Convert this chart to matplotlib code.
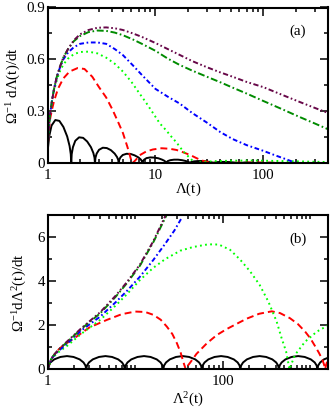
import matplotlib
matplotlib.use('Agg')
import matplotlib.pyplot as plt
from matplotlib.ticker import FixedLocator, NullFormatter, LogLocator, MultipleLocator

# ---------------- data: panel (a)  Λ(t) vs Ω^-1 dΛ/dt ----------------
a_black_x = [1, 1.01, 1.036, 1.09, 1.182, 1.288, 1.404, 1.522, 1.602, 1.643, 1.66,
             1.676, 1.72, 1.809, 1.962, 2.138, 2.331, 2.527, 2.659, 2.727, 2.754,
             2.782, 2.853, 3.002, 3.255, 3.547, 3.867, 4.192, 4.412, 4.525, 4.57,
             4.616, 4.735, 4.981, 5.402, 5.886, 6.416, 6.956, 7.321, 7.508, 7.585,
             7.661, 7.858, 8.268, 8.965, 9.769, 10.65, 11.54, 12.15, 12.46, 12.59,
             12.72, 13.04, 13.72, 14.88, 16.22, 17.68, 19.16, 20.17, 20.69, 20.89,
             21.1, 21.64, 22.77, 24.69, 26.91, 29.33, 31.79, 33.47, 34.32, 34.67,
             35.02, 35.92, 37.79, 40.98, 44.65, 48.68, 52.77, 55.54, 56.96, 57.53,
             68.0, 95.47, 112.8, 158.4, 187.2, 262.9, 310.7, 400]
a_black_y = [0, .088, .155, .218, .25, .245, .21, .155, .10, .053, 0,
             .053, .093, .13, .15, .147, .126, .093, .06, .032, 0,
             .032, .056, .078, .09, .088, .076, .056, .036, .019, 0,
             .019, .034, .048, .055, .054, .046, .034, .022, .012, 0,
             .012, .021, .030, .034, .033, .029, .021, .014, .007, 0,
             .007, .013, .018, .021, .021, .018, .013, .008, .004, 0,
             .005, .008, .011, .013, .013, .011, .008, .005, .003, 0,
             .003, .005, .007, .008, .008, .007, .005, .003, .002, 0,
             .005, 0, .003, 0, .002, 0, .001, 0]

a_red_x = [1, 1.01, 1.03, 1.06, 1.1, 1.15, 1.25, 1.4, 1.6, 1.9, 2.2, 2.6, 3.0, 3.5,
           4.0, 4.5, 5.0, 5.5, 5.8, 6.08, 6.4, 6.8, 7.3, 8.2, 9.5, 11.4, 13.5, 15.7,
           18, 21, 24, 27, 31, 36, 40, 60, 90, 130, 180, 260]
a_red_y = [0, .11, .19, .26, .31, .36, .43, .49, .53, .55, .545, .5, .44, .38,
           .31, .24, .175, .095, .045, 0, .012, .03, .05, .068, .08, .087, .084, .077,
           .064, .048, .03, .016, .007, .002, .001, .004, .005, .003, .001, 0]

a_green_dot_x = [1, 1.01, 1.03, 1.06, 1.1, 1.15, 1.22, 1.3, 1.4, 1.55, 1.75, 2.0, 2.4,
                 2.9, 3.5, 4.2, 5.0, 6.0, 7.0, 8.2, 9.5, 11, 12.6, 14, 15.7, 17.3, 19,
                 20.9, 22.5, 23.3, 26, 35, 50, 80, 120, 180, 250, 400]
a_green_dot_y = [0, .12, .21, .29, .36, .42, .48, .53, .57, .605, .63, .643, .645,
                 .635, .61, .575, .53, .47, .41, .35, .29, .23, .19, .155, .12, .085, .055,
                 .03, .01, 0, .006, .012, .015, .016, .014, .012, .01, .007]

a_blue_x = [1, 1.01, 1.03, 1.06, 1.1, 1.15, 1.22, 1.3, 1.4, 1.55, 1.75, 2.0, 2.4, 2.9,
            3.5, 4.2, 5.0, 6.2, 7.5, 10, 13, 16.8, 22, 30, 40, 52, 70, 100, 130, 160,
            185, 205]
a_blue_y = [0, .12, .21, .29, .36, .43, .5, .55, .6, .64, .67, .69, .698, .698,
            .69, .66, .625, .565, .51, .43, .385, .345, .29, .235, .18, .14, .105, .072,
            .045, .025, .01, 0]

a_green_dd_x = [1, 1.01, 1.03, 1.06, 1.1, 1.15, 1.22, 1.3, 1.4, 1.55, 1.75, 2.0, 2.4,
                2.9, 3.5, 4.2, 5.0, 6.2, 7.5, 10, 13, 16.8, 22, 30, 40, 52, 70, 100,
                150, 216, 300, 400]
a_green_dd_y = [0, .12, .21, .29, .36, .43, .5, .555, .61, .66, .705, .735, .758,
                .767, .765, .755, .74, .715, .69, .65, .605, .568, .535, .5, .468, .437,
                .403, .36, .312, .268, .23, .196]

a_purple_x = [1, 1.01, 1.03, 1.06, 1.1, 1.15, 1.22, 1.3, 1.4, 1.55, 1.75, 2.0, 2.4,
              2.9, 3.5, 4.2, 5.0, 6.2, 7.5, 10, 13, 16.8, 22, 30, 40, 52, 70, 100,
              150, 216, 300, 400]
a_purple_y = [0, .12, .21, .29, .36, .43, .5, .555, .61, .66, .71, .745, .77,
              .783, .785, .78, .77, .75, .73, .695, .66, .626, .59, .555, .525, .5,
              .47, .44, .395, .355, .32, .29]

# ---------------- data: panel (b)  Λ²(t) vs Ω^-1 dΛ²/dt ----------------
b_black_x = [1, 1.02, 1.074, 1.188, 1.397, 1.66, 1.972, 2.318, 2.566, 2.699,
             2.754, 2.81, 2.957, 3.272, 3.847, 4.572, 5.431, 6.384, 7.067, 7.433,
             7.585, 7.74, 8.146, 9.011, 10.6, 12.59, 14.96, 17.58, 19.46, 20.47,
             20.89, 21.31, 22.44, 24.82, 29.18, 34.68, 41.2, 48.42, 53.6, 56.38,
             57.53, 58.68, 61.79, 68.35, 80.37, 95.5, 113.4, 133.4, 147.6, 155.3,
             158.4, 161.6, 170.1, 188.2, 221.3, 263, 312.4, 367.2, 406.5, 427.5,
             436.3, 445, 468.6, 518.3, 609.5, 724.3, 860.4, 1011, 1120, 1178,
             1202, 1226, 1291, 1428, 1679]
b_black_y = [0, .17, .31, .45, .56, .6, .56, .45, .31, .17,
             0, .17, .31, .45, .56, .6, .56, .45, .31, .17,
             0, .17, .31, .45, .56, .6, .56, .45, .31, .17,
             0, .17, .31, .45, .56, .6, .56, .45, .31, .17,
             0, .17, .31, .45, .56, .6, .56, .45, .31, .17,
             0, .17, .31, .45, .56, .6, .56, .45, .31, .17,
             0, .17, .31, .45, .56, .6, .56, .45, .31, .17,
             0, .17, .31, .45, .56]

b_red_x = [1, 1.02, 1.06, 1.12, 1.25, 1.5, 1.96, 3, 4.73, 7, 10, 13, 16.1, 19.5,
           22.9, 26.5, 29.9, 33, 35.6, 37.7, 39, 42.3, 50, 65.7, 85, 110, 150, 188,
           260, 362, 450, 583, 720, 870, 1000, 1130, 1250, 1365, 1430, 1475, 1510, 1600]
b_red_y = [0, .12, .3, .5, .8, 1.08, 1.38, 1.9, 2.24, 2.5, 2.62, 2.6, 2.47, 2.25,
           1.94, 1.6, 1.18, .75, .3, 0, .12, .3, .7, 1.18, 1.55, 1.82, 2.1, 2.3,
           2.52, 2.63, 2.55, 2.32, 2.05, 1.71, 1.4, 1.05, .75, .45, .22, 0, .2, .5]

b_green_dot_x = [1, 1.03, 1.1, 1.3, 1.65, 2.4, 4, 6, 8, 11.3, 16, 22, 32.6, 46, 68,
                 90, 121, 158, 205, 263, 331, 412, 469, 528, 561, 575, 665, 868, 1185,
                 1600]
b_green_dot_y = [0, .15, .47, .75, 1.05, 1.6, 2.25, 2.9, 3.4, 4.05, 4.6, 5.0, 5.38,
                 5.55, 5.67, 5.66, 5.42, 4.97, 4.44, 3.83, 3.07, 2.16, 1.41, .8, .25, 0,
                 .65, 1.25, 1.71, 2.0]

b_blue_x = [1, 1.03, 1.1, 1.3, 1.65, 2.4, 4, 6, 8, 11.3, 16, 22, 28, 34]
b_blue_y = [0, .15, .48, .8, 1.15, 1.75, 2.4, 3.05, 3.55, 4.2, 4.95, 5.7, 6.3, 6.88]

b_green_dd_x = [1, 1.03, 1.1, 1.3, 1.65, 2.4, 4, 6, 8, 11.3, 16, 22.3, 25]
b_green_dd_y = [0, .15, .5, .85, 1.22, 1.82, 2.55, 3.3, 3.9, 4.7, 5.75, 6.92, 7.35]

b_purple_x = [1, 1.03, 1.1, 1.3, 1.65, 2.4, 4, 6, 8, 11.3, 16, 22.3, 25]
b_purple_y = [0, .15, .5, .85, 1.25, 1.85, 2.6, 3.35, 3.95, 4.75, 5.8, 7.0, 7.4]

a_xticks = [1, 10, 100]
a_xticklabels = ['1', '10', '100']
a_yticks = [0, 0.3, 0.6, 0.9]
a_yticklabels = ['0', '0.3', '0.6', '0.9']
b_xticks = [1, 100]
b_xticklabels = ['1', '100']
b_yticks = [0, 2, 4, 6]
b_yticklabels = ['0', '2', '4', '6']

# ---------------- styling ----------------
plt.rcParams['font.family'] = ['Liberation Serif', 'DejaVu Serif']
plt.rcParams['mathtext.fontset'] = 'custom'
plt.rcParams['mathtext.rm'] = 'Liberation Serif'
plt.rcParams['mathtext.it'] = 'Liberation Serif:italic'
plt.rcParams['lines.scale_dashes'] = False
FS = 10.8

C_BLACK = 'black'
C_RED = '#ff0000'
C_GREEN = '#00ff00'
C_BLUE = '#0000ff'
C_GREEN4 = '#008b00'
C_MAROON = '#670748'
LW = 1.4

fig = plt.figure(figsize=(3.32, 4.12), dpi=100)
axA = fig.add_axes([47.5 / 332, 1 - 163.3 / 412, 280.8 / 332, 155.8 / 412])
axB = fig.add_axes([47.7 / 332, 1 - 369.3 / 412, 280.6 / 332, 154.3 / 412])

styles = [
    (C_BLACK, '-'),
    (C_RED, (0, (5.0, 2.9))),
    (C_GREEN, (0, (1.3, 2.4))),
    (C_BLUE, (0, (3.4, 1.9, 1.2, 1.9))),
    (C_GREEN4, (0, (5.0, 1.9, 1.2, 1.9))),
    (C_MAROON, (0, (3.8, 1.8, 1.2, 1.8, 1.2, 1.8))),
]

a_series = [(a_black_x, a_black_y), (a_red_x, a_red_y), (a_green_dot_x, a_green_dot_y),
            (a_blue_x, a_blue_y), (a_green_dd_x, a_green_dd_y), (a_purple_x, a_purple_y)]
b_series = [(b_black_x, b_black_y), (b_red_x, b_red_y), (b_green_dot_x, b_green_dot_y),
            (b_blue_x, b_blue_y), (b_green_dd_x, b_green_dd_y), (b_purple_x, b_purple_y)]

for ax, series in ((axA, a_series), (axB, b_series)):
    for (xs, ys), (c, ls) in zip(series, styles):
        ax.plot(xs, ys, color=c, linestyle=ls, linewidth=LW,
                dash_capstyle='butt', solid_capstyle='butt', solid_joinstyle='round')

for ax in (axA, axB):
    ax.set_xscale('log')
    for sp in ax.spines.values():
        sp.set_linewidth(1.5)
    ax.tick_params(which='both', direction='in', top=True, right=True,
                   labelsize=FS, width=1.1)
    ax.tick_params(which='major', length=5.5)
    ax.tick_params(which='minor', length=3)
    ax.tick_params(axis='x', which='both', pad=4)
    ax.tick_params(axis='y', which='both', pad=2)
    ax.xaxis.set_minor_locator(LogLocator(base=10, subs=[1, 2, 3, 4, 5, 6, 7, 8, 9], numticks=20))
    ax.xaxis.set_minor_formatter(NullFormatter())

axA.set_xlim(1, 400)
axA.set_ylim(0, 0.9)
axA.xaxis.set_major_locator(FixedLocator(a_xticks))
axA.set_xticklabels(a_xticklabels)
axA.yaxis.set_major_locator(FixedLocator(a_yticks))
axA.set_yticklabels(a_yticklabels)
axA.yaxis.set_minor_locator(MultipleLocator(0.15))
axA.set_xlabel(r'$\Lambda$(t)', fontsize=FS)
axA.xaxis.set_label_coords(0.5, -0.112)
axA.set_ylabel(r'$\Omega^{-1}$ d$\Lambda$(t)/dt', fontsize=FS)
axA.yaxis.set_label_coords(-0.088, 0.5)
axA.text(0.889, 0.85, '(a)', transform=axA.transAxes, fontsize=FS, ha='center', va='center')

axB.set_xlim(1, 1600)
axB.set_ylim(0, 7)
axB.xaxis.set_major_locator(FixedLocator(b_xticks))
axB.set_xticklabels(b_xticklabels)
axB.yaxis.set_major_locator(FixedLocator(b_yticks))
axB.set_yticklabels(b_yticklabels)
axB.yaxis.set_minor_locator(MultipleLocator(1))
axB.set_xlabel(r'$\Lambda^2$(t)', fontsize=FS)
axB.xaxis.set_label_coords(0.5, -0.14)
axB.set_ylabel(r'$\Omega^{-1}$d$\Lambda^2$(t)/dt', fontsize=FS)
axB.yaxis.set_label_coords(-0.066, 0.5)
axB.text(0.892, 0.845, '(b)', transform=axB.transAxes, fontsize=FS, ha='center', va='center')

fig.savefig('out.png', dpi=100)
